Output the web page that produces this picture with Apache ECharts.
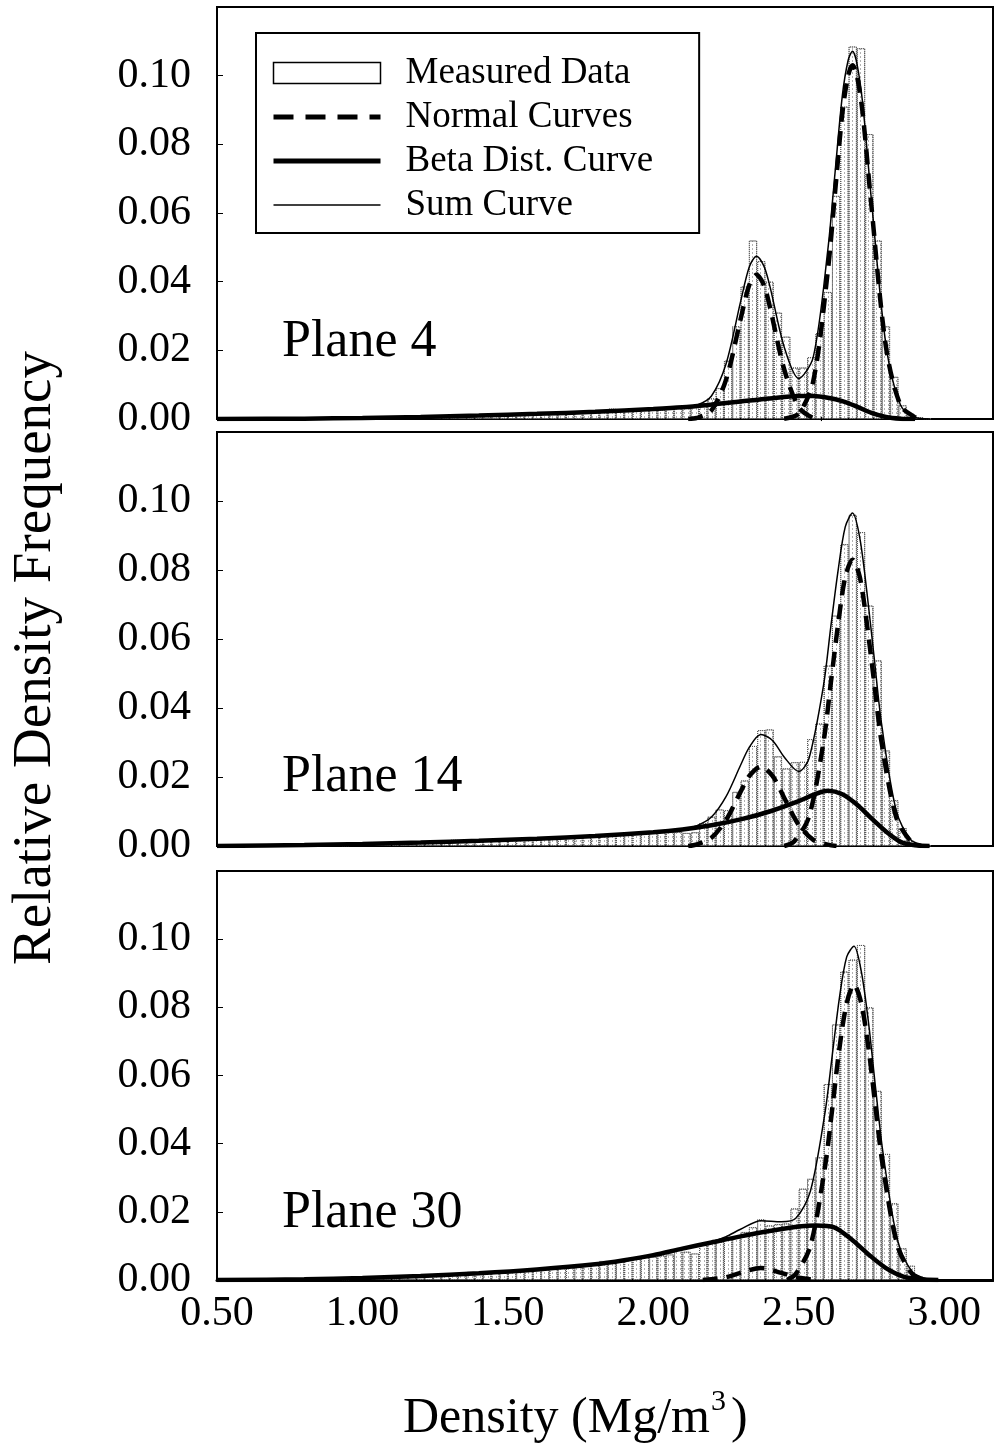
<!DOCTYPE html>
<html>
<head>
<meta charset="utf-8">
<script src="https://cdn.jsdelivr.net/npm/echarts@6/dist/echarts.min.js"></script>
<style>
  html, body { margin: 0; padding: 0; background: #fff; }
  #chart { width: 994px; height: 1450px; }
</style>
</head>
<body>
<div id="chart"></div>
<script>
// histogram classes: width 1/35 Mg/m3, first plotted class starts at 0.5 + 15/35
const BIN_WIDTH = 1 / 35;
const FIRST_BIN = 0.5 + 15 / 35;
const planes = ["Plane 4", "Plane 14", "Plane 30"];
const xTicks = [0.5, 1.0, 1.5, 2.0, 2.5, 3.0];
const yTicks = [0, 0.02, 0.04, 0.06, 0.08, 0.1];

// measured relative frequency per class
const plane4Hist = [
  0.0002, 0.0003, 0.0003, 0.0004, 0.0004,
  0.0005, 0.0005, 0.0006, 0.0006, 0.0007, 0.0007, 0.0008, 0.0008, 0.0009, 0.0010,
  0.0010, 0.0011, 0.0011, 0.0012, 0.0012, 0.0013, 0.0013, 0.0014, 0.0015, 0.0016,
  0.0017, 0.0018, 0.0016, 0.0020, 0.0019, 0.0021, 0.0022, 0.0030, 0.0024, 0.0025,
  0.0026, 0.0032, 0.0028, 0.0027, 0.0030, 0.0033, 0.0035,
  0.0040, 0.0045, 0.0060, 0.0090, 0.0170, 0.0270, 0.0386, 0.0520, 0.0460, 0.0400,
  0.0310, 0.0240, 0.0150, 0.0150, 0.0180, 0.0250, 0.0370, 0.0650, 0.0910, 0.1085,
  0.1080, 0.0830, 0.0520, 0.0270, 0.0123, 0.0040, 0.0015, 0.0005, 0.0002
];
const plane14Hist = [
  0.0002, 0.0003, 0.0004, 0.0004, 0.0005,
  0.0006, 0.0007, 0.0007, 0.0008, 0.0012, 0.0010, 0.0011, 0.0010, 0.0018, 0.0015,
  0.0014, 0.0015, 0.0016, 0.0022, 0.0018, 0.0019, 0.0020, 0.0021, 0.0022, 0.0024,
  0.0025, 0.0026, 0.0027, 0.0029, 0.0030, 0.0032, 0.0033, 0.0035, 0.0036, 0.0038,
  0.0039, 0.0040, 0.0041, 0.0040, 0.0042, 0.0041, 0.0038,
  0.0040, 0.0066, 0.0085, 0.0106, 0.0104, 0.0157, 0.0190, 0.0290, 0.0336, 0.0338,
  0.0260, 0.0225, 0.0243, 0.0244, 0.0310, 0.0355, 0.0523, 0.0668, 0.0875, 0.0960,
  0.0910, 0.0697, 0.0538, 0.0277, 0.0133, 0.0052, 0.0015, 0.0005, 0.0002
];
const plane30Hist = [
  0.0002, 0.0003, 0.0004, 0.0005, 0.0006,
  0.0007, 0.0008, 0.0009, 0.0015, 0.0011, 0.0012, 0.0013, 0.0014, 0.0016, 0.0017,
  0.0024, 0.0019, 0.0021, 0.0022, 0.0024, 0.0025, 0.0027, 0.0029, 0.0031, 0.0033,
  0.0035, 0.0036, 0.0038, 0.0040, 0.0042, 0.0045, 0.0056, 0.0050, 0.0055, 0.0060,
  0.0063, 0.0067, 0.0068, 0.0072, 0.0075, 0.0093, 0.0083,
  0.0078, 0.0104, 0.0110, 0.0112, 0.0120, 0.0127, 0.0141, 0.0155, 0.0178, 0.0160,
  0.0164, 0.0166, 0.0210, 0.0268, 0.0297, 0.0360, 0.0575, 0.0750, 0.0905, 0.0940,
  0.0983, 0.0800, 0.0555, 0.0370, 0.0225, 0.0093, 0.0042, 0.0010, 0.0003
];

// fitted curves [density, frequency]
const plane4Normal1 = [[2.12,0],[2.15,0.0003],[2.20,0.0025],[2.25,0.0114],[2.30,0.029],[2.33,0.039],[2.355,0.042],[2.38,0.039],[2.40,0.033],[2.45,0.0145],[2.50,0.0035],[2.55,0.0003],[2.58,0]];
const plane4Normal2 = [[2.45,0.0001],[2.50,0.0016],[2.55,0.011],[2.60,0.043],[2.625,0.066],[2.65,0.089],[2.67,0.100],[2.685,0.103],[2.70,0.100],[2.72,0.089],[2.75,0.062],[2.80,0.021],[2.85,0.004],[2.90,0.0005],[2.93,0]];
const plane4Beta = [[0.50,0],[0.80,0.0001],[1.00,0.0003],[1.20,0.0006],[1.40,0.0010],[1.60,0.0015],[1.80,0.0021],[2.00,0.0029],[2.10,0.0034],[2.20,0.0042],[2.30,0.0051],[2.40,0.0060],[2.50,0.0067],[2.55,0.0067],[2.60,0.0062],[2.65,0.0052],[2.70,0.0036],[2.75,0.0018],[2.80,0.0006],[2.85,0.0001],[2.90,0]];
const plane4Sum = [[0.50,0],[1.00,0.0003],[1.40,0.0010],[1.80,0.0021],[2.00,0.0029],[2.10,0.0034],[2.15,0.0040],[2.20,0.0067],[2.25,0.0160],[2.30,0.0341],[2.33,0.0443],[2.355,0.0474],[2.38,0.0446],[2.40,0.0390],[2.45,0.0210],[2.50,0.0118],[2.55,0.0180],[2.60,0.0492],[2.625,0.0718],[2.65,0.0942],[2.67,0.1045],[2.685,0.1071],[2.70,0.1036],[2.72,0.0919],[2.75,0.0638],[2.80,0.0216],[2.85,0.0041],[2.90,0.0005],[2.95,0]];

const plane14Normal1 = [[2.12,0],[2.15,0.0005],[2.20,0.0024],[2.25,0.0075],[2.30,0.0157],[2.33,0.0203],[2.37,0.023],[2.41,0.0203],[2.45,0.0140],[2.50,0.0061],[2.55,0.0018],[2.60,0.0004],[2.63,0]];
const plane14Normal2 = [[2.45,0],[2.485,0.0014],[2.535,0.0084],[2.585,0.030],[2.61,0.047],[2.635,0.064],[2.66,0.078],[2.685,0.083],[2.71,0.078],[2.735,0.064],[2.76,0.047],[2.785,0.030],[2.835,0.0084],[2.885,0.0014],[2.92,0]];
const plane14Beta = [[0.50,0],[0.80,0.0003],[1.00,0.0006],[1.20,0.0010],[1.40,0.0015],[1.60,0.0021],[1.80,0.0029],[2.00,0.0040],[2.10,0.0048],[2.20,0.0060],[2.30,0.0077],[2.40,0.0100],[2.50,0.0130],[2.55,0.0148],[2.60,0.0160],[2.65,0.0150],[2.70,0.0120],[2.75,0.0080],[2.80,0.0042],[2.85,0.0012],[2.90,0.0002],[2.95,0]];
const plane14Sum = [[0.50,0],[1.00,0.0006],[1.40,0.0015],[1.80,0.0029],[2.00,0.0040],[2.10,0.0048],[2.15,0.0059],[2.20,0.0084],[2.25,0.0143],[2.30,0.0234],[2.33,0.0286],[2.37,0.0323],[2.41,0.0306],[2.45,0.0258],[2.50,0.0216],[2.535,0.0253],[2.585,0.0464],[2.61,0.0633],[2.635,0.0796],[2.66,0.0925],[2.685,0.0965],[2.71,0.0893],[2.735,0.0732],[2.76,0.0542],[2.785,0.0353],[2.835,0.0104],[2.885,0.0018],[2.94,0.0001]];

const plane30Normal1 = [[2.17,0],[2.20,0.0002],[2.25,0.0008],[2.30,0.0021],[2.37,0.0035],[2.44,0.0021],[2.49,0.0008],[2.54,0.0002],[2.57,0]];
const plane30Normal2 = [[2.46,0],[2.49,0.0018],[2.54,0.0099],[2.59,0.033],[2.615,0.050],[2.64,0.068],[2.665,0.0812],[2.69,0.0866],[2.715,0.0812],[2.74,0.068],[2.765,0.050],[2.79,0.033],[2.84,0.0099],[2.89,0.0018],[2.93,0]];
const plane30Beta = [[0.50,0],[0.80,0.0002],[1.00,0.0006],[1.20,0.0012],[1.40,0.0020],[1.60,0.0031],[1.80,0.0046],[1.90,0.0058],[2.00,0.0073],[2.10,0.0092],[2.20,0.0110],[2.30,0.0128],[2.40,0.0144],[2.50,0.0157],[2.56,0.0160],[2.62,0.0155],[2.68,0.0120],[2.74,0.0075],[2.80,0.0035],[2.86,0.0010],[2.92,0.0002],[2.98,0]];
const plane30Sum = [[0.50,0],[1.00,0.0006],[1.40,0.0020],[1.80,0.0046],[2.00,0.0073],[2.10,0.0092],[2.20,0.0112],[2.25,0.0127],[2.30,0.0149],[2.37,0.0174],[2.44,0.0171],[2.49,0.0181],[2.54,0.0260],[2.59,0.0489],[2.615,0.0657],[2.64,0.0828],[2.665,0.0948],[2.69,0.0979],[2.715,0.0906],[2.74,0.0755],[2.765,0.0558],[2.79,0.0372],[2.84,0.0116],[2.89,0.0024],[2.94,0.0003],[2.98,0]];

const hists = [plane4Hist, plane14Hist, plane30Hist];
const normals = [[plane4Normal1, plane4Normal2], [plane14Normal1, plane14Normal2], [plane30Normal1, plane30Normal2]];
const betas = [plane4Beta, plane14Beta, plane30Beta];
const sums = [plane4Sum, plane14Sum, plane30Sum];

const SERIF = '"Liberation Serif", "Times New Roman", serif';
const gridBoxes = [
  { top: 7, height: 412 },
  { top: 432, height: 414 },
  { top: 871, height: 409 }
];
const labelY = [342, 777, 1213];

const myChart = echarts.init(document.getElementById("chart"));

const grid = gridBoxes.map(g => ({
  left: 217, width: 776, top: g.top, height: g.height,
  show: true, borderColor: "#000", borderWidth: 2, backgroundColor: "transparent",
  containLabel: false, outerBoundsMode: "none"
}));

const xAxis = gridBoxes.map((g, i) => ({
  type: "value", gridIndex: i,
  min: xTicks[0], max: 3.168, interval: 0.5,
  axisLine: { show: true, onZero: false, lineStyle: { color: "#000", width: i === 2 ? 3 : 2 } },
  axisTick: { show: false },
  splitLine: { show: false },
  axisLabel: {
    show: i === 2, color: "#000", fontFamily: SERIF, fontSize: 42, margin: 13,
    showMaxLabel: false,
    formatter: v => v.toFixed(2)
  }
}));

const yAxis = gridBoxes.map((g, i) => ({
  type: "value", gridIndex: i,
  min: yTicks[0], max: 0.12, interval: 0.02,
  axisLine: { show: true, lineStyle: { color: "#000", width: 2 } },
  axisTick: { show: true, inside: true, length: 6, lineStyle: { color: "#000", width: 1 } },
  splitLine: { show: false },
  axisLabel: {
    color: "#000", fontFamily: SERIF, fontSize: 42, margin: 26,
    showMaxLabel: false,
    formatter: v => v.toFixed(2)
  }
}));

const series = [];
hists.forEach((h, i) => {
  series.push({
    name: "Measured Data", type: "bar", xAxisIndex: i, yAxisIndex: i,
    barWidth: "100%", z: 1,
    itemStyle: {
      color: "#fff", borderColor: "#555", borderWidth: 1, borderType: "dotted",
      decal: { symbol: "rect", symbolSize: 1, dashArrayX: [1, 3], dashArrayY: [2, 2], color: "rgba(0,0,0,0.3)", rotation: 0 }
    },
    data: h.map((v, k) => [FIRST_BIN + (k + 0.5) * BIN_WIDTH, v])
  });
  normals[i].forEach(n => series.push({
    name: "Normal Curves", type: "line", xAxisIndex: i, yAxisIndex: i,
    symbol: "none", smooth: 0.3, z: 3,
    lineStyle: { color: "#000", width: 4.5, type: [15, 9] },
    data: n
  }));
  series.push({
    name: "Beta Dist. Curve", type: "line", xAxisIndex: i, yAxisIndex: i,
    symbol: "none", smooth: 0.3, z: 4,
    lineStyle: { color: "#000", width: 4.5 },
    data: betas[i]
  });
  series.push({
    name: "Sum Curve", type: "line", xAxisIndex: i, yAxisIndex: i,
    symbol: "none", smooth: 0.3, z: 5,
    lineStyle: { color: "#000", width: 1.5 },
    data: sums[i]
  });
});

const option = {
  animation: false,
  backgroundColor: "#fff",
  grid: grid,
  xAxis: xAxis,
  yAxis: yAxis,
  legend: {
    orient: "vertical", left: 256, top: 33,
    padding: [20, 46, 8, 15],
    itemGap: 4, itemWidth: 107, itemHeight: 21,
    borderColor: "#000", borderWidth: 2, backgroundColor: "#fff",
    selectedMode: false,
    textStyle: { fontFamily: SERIF, fontSize: 37, color: "#000", lineHeight: 40, padding: [0, 0, 0, 20] },
    data: [
      { name: "Measured Data", icon: "rect", itemStyle: { color: "#fff", borderColor: "#000", borderWidth: 1.5, borderType: "solid", decal: "none" } },
      { name: "Normal Curves", itemStyle: { opacity: 0 }, lineStyle: { color: "#000", width: 5, type: [20, 12] } },
      { name: "Beta Dist. Curve", itemStyle: { opacity: 0 }, lineStyle: { color: "#000", width: 5 } },
      { name: "Sum Curve", itemStyle: { opacity: 0 }, lineStyle: { color: "#000", width: 1.5 } }
    ]
  },
  title: {
    text: "{a|Density (Mg/m}{s|3}{a|)}",
    left: 398, top: 1382,
    textStyle: {
      fontWeight: "normal",
      rich: {
        a: { fontFamily: SERIF, fontSize: 50, fontWeight: "normal", color: "#000", lineHeight: 64 },
        s: { fontFamily: SERIF, fontSize: 30, fontWeight: "normal", color: "#000", verticalAlign: "top", lineHeight: 64, padding: [0, 5, 0, 1] }
      }
    }
  },
  graphic: [
    {
      type: "text", x: 36, y: 658, rotation: Math.PI / 2,
      style: { text: "Relative Density Frequency", font: "55px " + SERIF, fill: "#000", align: "center", verticalAlign: "middle" }
    }
  ].concat(planes.map((p, i) => ({
    type: "text", x: 282, y: labelY[i],
    style: { text: p, font: "52px " + SERIF, fill: "#000", align: "left", verticalAlign: "middle" }
  }))),
  series: series
};

myChart.setOption(option);
</script>
</body>
</html>
